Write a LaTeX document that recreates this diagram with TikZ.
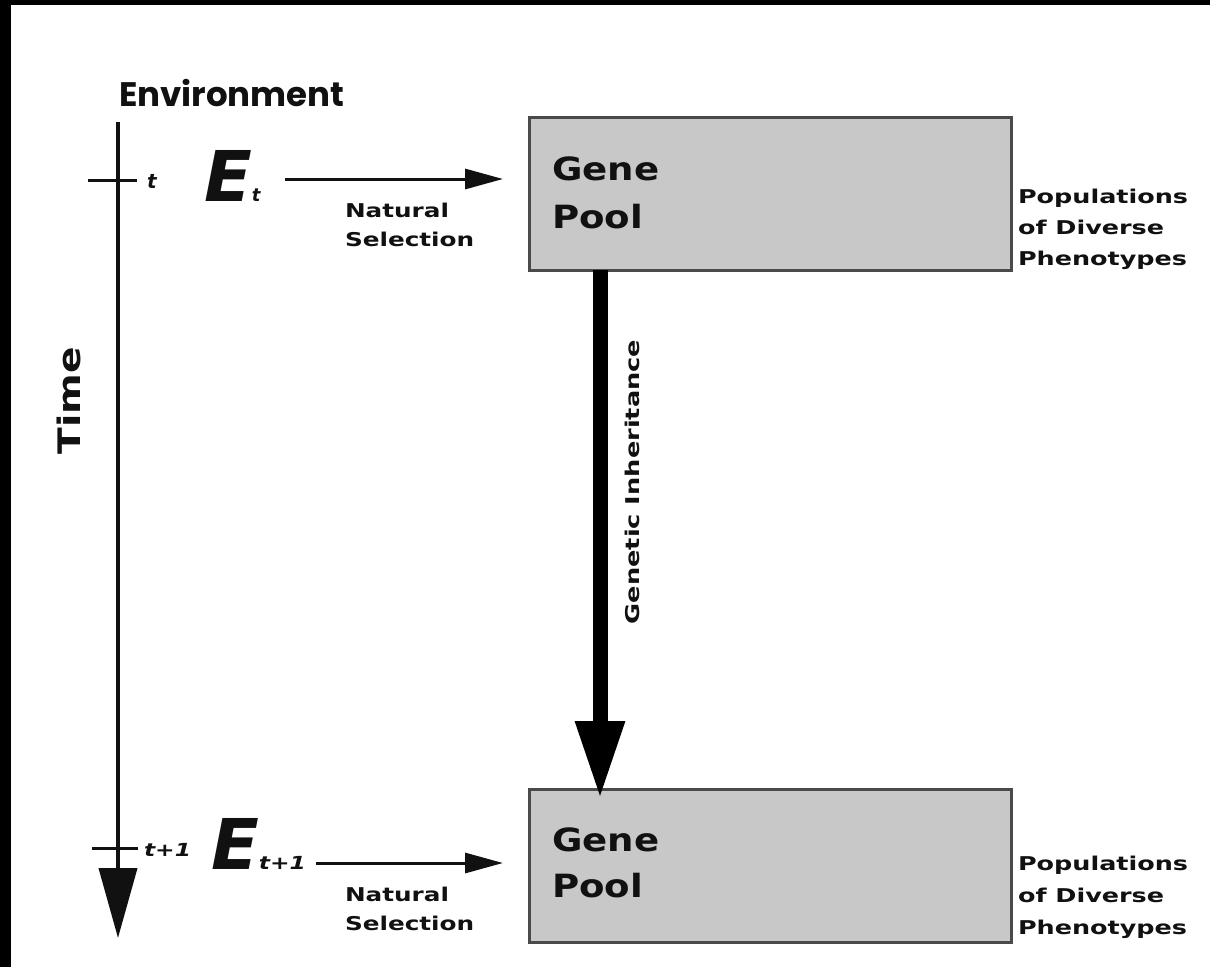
\documentclass[tikz,border=0pt]{standalone}
\usepackage{fontspec}
\usepackage{graphicx}
\usetikzlibrary{arrows.meta}
\newfontfamily\dv{DejaVu Sans}
\newfontfamily\pop{Poppins}
\newcommand\wx[2][1.32]{\scalebox{#1}[1]{#2}}
\definecolor{boxfill}{HTML}{C8C8C8}
\definecolor{boxline}{HTML}{4A4A4A}
\definecolor{ink}{HTML}{111111}
\begin{document}
\begin{tikzpicture}[x=1pt,y=-1pt,
  poolbox/.style={draw=boxline, line width=3pt, fill=boxfill, minimum width=482pt,
    minimum height=153pt, inner sep=0pt, outer sep=0pt, anchor=north west},
  txt/.style={inner sep=0pt, outer sep=0pt, text=ink},
  small/.style={txt, font=\dv\bfseries\fontsize{19}{22}\selectfont},
  genef/.style={txt, font=\dv\bfseries\fontsize{32}{36}\selectfont, anchor=base west},
  sel/.style={draw=ink, line width=3pt, -{Triangle[length=38pt,width=20pt]}},
  axisline/.style={draw=ink, line width=4pt, -{Triangle[length=70pt,width=38pt]}},
  tickline/.style={draw=ink, line width=3pt},
  inherit/.style={draw=black, line width=15pt, -{Triangle[length=78pt,width=46pt]}}]
\useasboundingbox (0,0) rectangle (1210,967);
\fill[white] (0,0) rectangle (1210,967);
\fill[black] (0,0) rectangle (1210,5);
\fill[black] (0,0) rectangle (11,967);

% title
\node[txt, font=\pop\bfseries\fontsize{34}{40}\selectfont, anchor=base west] (env) at (119,106) {Environment};

% time axis
\coordinate (ttop) at (118,122);
\coordinate (tbot) at (118,938);
\draw[axisline] (ttop) -- (tbot);
\coordinate (tk1a) at (88,180);
\coordinate (tk1b) at (137,180);
\coordinate (tk2a) at (92,848);
\coordinate (tk2b) at (138,848);
\draw[tickline] (tk1a) -- (tk1b);
\draw[tickline] (tk2a) -- (tk2b);
\node[txt, font=\dv\bfseries\itshape\fontsize{20}{22}\selectfont, anchor=base west] (tlab1) at (147,188) {t};
\node[txt, font=\dv\bfseries\itshape\fontsize{18}{20}\selectfont, anchor=base west] (tlab2) at (144,856) {\wx[1.3]{t+1}};
\node[txt, font=\dv\bfseries\fontsize{31}{34}\selectfont, rotate=90] (time) at (69,401) {\wx[1.26]{Time}};

% environments
\node[txt, font=\dv\bfseries\itshape, anchor=base west] (Et) at (204,201)
  {\fontsize{70}{70}\selectfont E\fontsize{18}{20}\selectfont t};
\node[txt, font=\dv\bfseries\itshape, anchor=base west] (Et1) at (211,869)
  {\fontsize{70}{70}\selectfont E\fontsize{18}{20}\selectfont\wx[1.3]{t+1}};

% gene pools
\node[poolbox] (box1) at (529,117) {};
\node[poolbox] (box2) at (529,789) {};
\node[genef] (gene1) at (552,180) {\wx[1.16]{Gene}};
\node[genef] (pool1) at (552,228) {\wx[1.16]{Pool}};
\node[genef] (gene2) at (552,851) {\wx[1.16]{Gene}};
\node[genef] (pool2) at (552,897) {\wx[1.16]{Pool}};

% natural selection arrows
\coordinate (s1a) at (285,179);
\coordinate (s1b) at (503,179);
\coordinate (s2a) at (316,863);
\coordinate (s2b) at (503,863);
\draw[sel] (s1a) -- (s1b);
\draw[sel] (s2a) -- (s2b);
\node[small, anchor=base west] (nat1) at (345,217) {\wx[1.3]{Natural}};
\node[small, anchor=base west] (selc1) at (345,246) {\wx[1.3]{Selection}};
\node[small, anchor=base west] (nat2) at (345,901) {\wx[1.3]{Natural}};
\node[small, anchor=base west] (selc2) at (345,930) {\wx[1.3]{Selection}};

% populations
\foreach \t [count=\i] in {Populations,of Diverse,Phenotypes}{
  \node[small, anchor=base west] (popA\i) at (1018,{203+31*(\i-1)}) {\wx[1.34]{\t}};
  \node[small, anchor=base west] (popB\i) at (1018,{870+32*(\i-1)}) {\wx[1.34]{\t}};
}

% genetic inheritance
\draw[inherit] ([xshift=71pt]box1.south west) -- ([xshift=71pt,yshift=-10pt]box2.north west);
\node[small, rotate=90] (gi) at (632,482) {\wx[1.35]{Genetic Inheritance}};
\end{tikzpicture}
\end{document}
